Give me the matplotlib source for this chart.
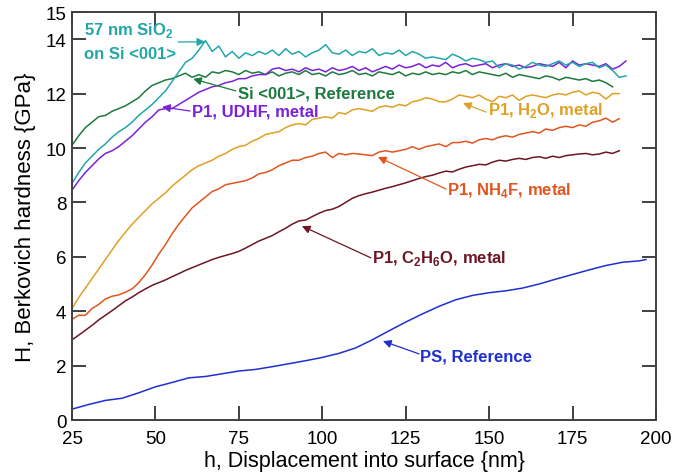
import matplotlib.pyplot as plt
import numpy as np

# displacement grids (nm)
h_sio2 = np.arange(25, 192, 2)
h_udhf = np.arange(25, 192, 2)
h_si = np.arange(25, 188, 2)
h_h2o = np.arange(25, 190, 2)
h_nh4f = np.arange(25, 190, 2)
h_c2h6o = np.arange(25, 190, 2)
h_ps = [25, 30, 35, 40, 45, 50, 55, 60, 65, 70, 75, 80, 85, 90, 95, 100, 105, 110, 115, 120,
        125, 130, 135, 140, 145, 150, 155, 160, 165, 170, 175, 180, 185, 190, 195, 197]

# hardness values (GPa)
H_sio2 = [8.70, 9.10, 9.45, 9.70, 9.95, 10.15, 10.40, 10.60, 10.75, 10.95, 11.20, 11.40, 11.60, 11.85,
          12.10, 12.45, 12.80, 13.15, 13.30, 13.60, 13.95, 13.55, 13.75, 13.35, 13.55, 13.30, 13.50, 13.40,
          13.55, 13.45, 13.60, 13.40, 13.65, 13.45, 13.55, 13.35, 13.50, 13.60, 13.80, 13.50, 13.45, 13.60,
          13.40, 13.55, 13.50, 13.65, 13.40, 13.50, 13.45, 13.60, 13.40, 13.55, 13.45, 13.30, 13.35, 13.30,
          13.25, 13.45, 13.35, 13.20, 13.30, 13.25, 13.15, 13.20, 12.95, 13.10, 13.05, 12.90, 13.00, 13.15,
          13.05, 13.00, 13.10, 13.20, 13.05, 13.15, 13.00, 13.10, 13.15, 12.95, 13.05, 12.85, 12.60, 12.65]
H_udhf = [8.45, 8.80, 9.10, 9.35, 9.60, 9.80, 9.90, 10.05, 10.25, 10.45, 10.70, 10.95, 11.15, 11.40,
          11.45, 11.45, 11.60, 11.75, 11.90, 12.05, 12.15, 12.25, 12.30, 12.40, 12.45, 12.55, 12.55, 12.65,
          12.70, 12.70, 12.90, 12.95, 12.85, 12.90, 12.80, 12.95, 12.85, 12.90, 12.80, 12.95, 12.85, 12.90,
          13.00, 12.85, 12.95, 12.80, 12.90, 13.00, 12.90, 13.05, 12.95, 13.00, 13.10, 12.95, 13.05, 13.00,
          13.15, 12.95, 13.05, 13.10, 13.00, 13.05, 13.10, 12.95, 13.05, 13.10, 13.00, 13.05, 12.95, 13.00,
          13.10, 13.05, 13.00, 13.15, 12.95, 13.20, 13.05, 13.10, 13.05, 13.00, 13.10, 12.90, 13.00, 13.20]
H_si = [10.10, 10.45, 10.75, 10.95, 11.15, 11.20, 11.35, 11.45, 11.55, 11.70, 11.85, 12.10, 12.30, 12.40,
        12.50, 12.55, 12.65, 12.75, 12.60, 12.70, 12.60, 12.80, 12.75, 12.85, 12.80, 12.70, 12.85, 12.75,
        12.80, 12.70, 12.80, 12.65, 12.75, 12.80, 12.70, 12.85, 12.70, 12.75, 12.65, 12.80, 12.70, 12.75,
        12.85, 12.70, 12.75, 12.65, 12.80, 12.75, 12.70, 12.80, 12.65, 12.75, 12.70, 12.80, 12.70, 12.75,
        12.70, 12.80, 12.75, 12.85, 12.70, 12.80, 12.75, 12.70, 12.65, 12.75, 12.60, 12.70, 12.65, 12.60,
        12.55, 12.65, 12.60, 12.50, 12.60, 12.55, 12.50, 12.55, 12.45, 12.50, 12.40, 12.25]
H_h2o = [4.10, 4.50, 4.85, 5.20, 5.55, 5.90, 6.25, 6.60, 6.90, 7.20, 7.45, 7.70, 7.95, 8.15,
         8.35, 8.60, 8.80, 9.00, 9.20, 9.35, 9.45, 9.55, 9.70, 9.80, 9.95, 10.05, 10.10, 10.25,
         10.35, 10.50, 10.55, 10.60, 10.75, 10.85, 10.90, 10.85, 11.05, 11.10, 11.15, 11.10, 11.30, 11.25,
         11.40, 11.45, 11.40, 11.35, 11.50, 11.55, 11.50, 11.60, 11.55, 11.70, 11.75, 11.85, 11.80, 11.70,
         11.70, 11.80, 11.95, 11.90, 11.85, 11.95, 11.80, 11.70, 11.90, 11.85, 11.95, 11.75, 11.90, 11.95,
         11.90, 11.85, 11.95, 12.00, 11.95, 12.05, 12.10, 11.95, 12.05, 12.00, 11.80, 12.00, 12.00]
H_nh4f = [3.70, 3.85, 3.85, 4.10, 4.25, 4.45, 4.55, 4.60, 4.70, 4.82, 5.05, 5.35, 5.70, 6.10,
          6.45, 6.85, 7.20, 7.50, 7.80, 8.00, 8.20, 8.40, 8.50, 8.65, 8.70, 8.75, 8.80, 8.90,
          9.05, 9.10, 9.20, 9.35, 9.45, 9.55, 9.55, 9.65, 9.70, 9.80, 9.85, 9.65, 9.80, 9.75,
          9.80, 9.78, 9.75, 9.72, 9.85, 9.90, 9.85, 9.90, 9.95, 10.05, 9.95, 10.05, 10.10, 10.15,
          10.05, 10.20, 10.20, 10.25, 10.18, 10.30, 10.35, 10.30, 10.40, 10.45, 10.40, 10.50, 10.55, 10.60,
          10.55, 10.70, 10.65, 10.75, 10.80, 10.75, 10.85, 10.80, 10.95, 11.00, 11.10, 10.95, 11.08]
H_c2h6o = [2.95, 3.12, 3.30, 3.48, 3.68, 3.85, 4.02, 4.20, 4.38, 4.52, 4.68, 4.82, 4.95, 5.05,
           5.15, 5.27, 5.38, 5.50, 5.60, 5.70, 5.80, 5.90, 5.98, 6.05, 6.12, 6.20, 6.32, 6.45,
           6.58, 6.68, 6.78, 6.92, 7.05, 7.20, 7.32, 7.35, 7.48, 7.60, 7.70, 7.75, 7.85, 8.00,
           8.15, 8.25, 8.32, 8.38, 8.45, 8.52, 8.58, 8.65, 8.72, 8.80, 8.88, 8.95, 9.00, 9.08,
           9.15, 9.12, 9.22, 9.30, 9.35, 9.40, 9.38, 9.48, 9.55, 9.52, 9.58, 9.62, 9.58, 9.65,
           9.68, 9.62, 9.70, 9.65, 9.72, 9.75, 9.78, 9.80, 9.75, 9.78, 9.85, 9.80, 9.90]
H_ps = [0.40, 0.57, 0.72, 0.80, 1.00, 1.22, 1.38, 1.55, 1.60, 1.70, 1.80, 1.86, 1.96, 2.07, 2.18, 2.30,
        2.45, 2.65, 2.95, 3.28, 3.60, 3.90, 4.18, 4.42, 4.58, 4.68, 4.75, 4.85, 5.00, 5.18, 5.35, 5.52,
        5.68, 5.80, 5.85, 5.90]

plt.rcParams['font.family'] = ['Liberation Sans', 'DejaVu Sans']
plt.rcParams['mathtext.fontset'] = 'custom'
plt.rcParams['mathtext.rm'] = 'Liberation Sans'
plt.rcParams['mathtext.bf'] = 'Liberation Sans:bold'

c_sio2 = '#22a6a8'
c_udhf = '#7a22d8'
c_si = '#1c7a3e'
c_h2o = '#e0a024'
c_nh4f = '#e0561e'
c_c2h6o = '#6e1624'
c_ps = '#1f2fd0'

fig = plt.figure(figsize=(6.84, 4.77), dpi=100)
ax = fig.add_axes([0.1053, 0.1174, 0.8537, 0.8553])

ax.plot(h_ps, H_ps, color=c_ps, lw=1.1)
ax.plot(h_c2h6o, H_c2h6o, color=c_c2h6o, lw=1.1)
ax.plot(h_nh4f, H_nh4f, color=c_nh4f, lw=1.1)
ax.plot(h_h2o, H_h2o, color=c_h2o, lw=1.1)
ax.plot(h_si, H_si, color=c_si, lw=1.1)
ax.plot(h_udhf, H_udhf, color=c_udhf, lw=1.1)
ax.plot(h_sio2, H_sio2, color=c_sio2, lw=1.1)

ax.set_xlim(25, 200)
ax.set_ylim(0, 15)
ax.set_xticks([25, 50, 75, 100, 125, 150, 175, 200])
ax.set_yticks([0, 2, 4, 6, 8, 10, 12, 14, 15])
ax.tick_params(direction='in', length=10, width=1.4, labelsize=13.5, color='#404040',
               top=True, right=True)
ax.tick_params(axis='x', pad=7)
ax.tick_params(axis='y', pad=4)
for s in ax.spines.values():
    s.set_linewidth(1.4)
    s.set_color('#404040')

ax.set_xlabel('h, Displacement into surface {nm}', fontsize=15.5, labelpad=2)
ax.set_ylabel('H, Berkovich hardness {GPa}', fontsize=16, labelpad=7)

# labels with arrows
def label(txt, pos, col):
    ax.text(pos[0] + 0.4, pos[1], txt, color=col, fontsize=12, fontweight='bold',
            ha='left', va='center')

def arrow(start, end, col):
    ax.annotate('', xy=end, xytext=start,
                arrowprops=dict(arrowstyle='-|>', color=col, lw=0.9, mutation_scale=12,
                                shrinkA=0, shrinkB=0))

ax.text(28.6, 14.37, '57 nm SiO$_\\mathbf{2}$', color=c_sio2, fontsize=12, fontweight='bold',
        ha='left', va='center')
ax.text(28.6, 13.46, 'on Si <001>', color=c_sio2, fontsize=12, fontweight='bold',
        ha='left', va='center')
arrow((56.8, 13.9), (64.9, 13.9), c_sio2)

label('Si <001>, Reference', (74.4, 12.02), c_si)
arrow((74.1, 12.1), (61.3, 12.54), c_si)

label('P1, UDHF, metal', (60.7, 11.36), c_udhf)
arrow((60.4, 11.36), (52.0, 11.51), c_udhf)

label('P1, H$_\\mathbf{2}$O, metal', (149.4, 11.40), c_h2o)
arrow((149.1, 11.32), (142.2, 11.65), c_h2o)

label('P1, NH$_\\mathbf{4}$F, metal', (137.1, 8.46), c_nh4f)
arrow((137.1, 8.49), (116.7, 9.67), c_nh4f)

label('P1, C$_\\mathbf{2}$H$_\\mathbf{6}$O, metal', (114.6, 5.96), c_c2h6o)
arrow((114.6, 5.96), (93.9, 7.13), c_c2h6o)

label('PS, Reference', (129.0, 2.35), c_ps)
arrow((129.0, 2.43), (118.2, 2.90), c_ps)

plt.savefig('out.png', dpi=100)
